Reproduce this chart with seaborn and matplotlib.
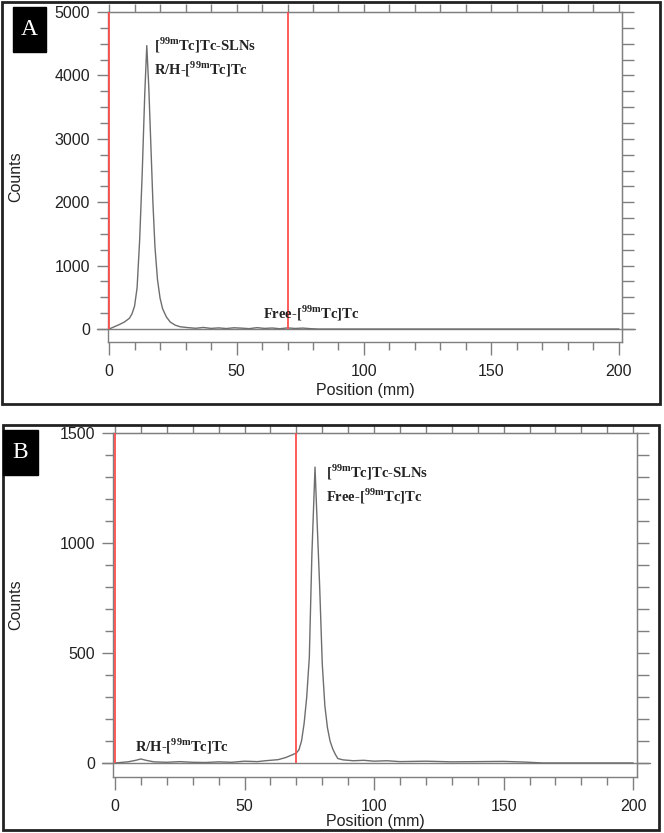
import numpy as np
import seaborn as sns
import matplotlib.pyplot as plt
from matplotlib.patches import Rectangle

# Radio-TLC scan A (position in mm, counts)
a_pos = [0, 2, 4, 6, 8, 9, 10, 11, 12, 13, 14, 14.8, 15.6, 16.4, 17.2, 18.0,
         19.0, 20.0, 21.0, 22.5, 24, 26, 28, 31, 34, 37, 40, 43, 46, 49, 52,
         55, 58, 61, 64, 67, 70, 73, 76, 79, 82, 90, 120, 160, 200]
a_counts = [0, 35, 70, 110, 170, 240, 360, 650, 1400, 2450, 3700, 4470, 3800,
            2900, 2000, 1300, 780, 490, 320, 190, 110, 60, 35, 22, 12, 25, 10,
            18, 8, 20, 14, 6, 22, 10, 16, 5, 18, 9, 15, 6, 0, 0, 0, 0, 0]

# Radio-TLC scan B
b_pos = [0, 5, 8, 10, 12, 15, 20, 25, 30, 35, 40, 45, 50, 55, 58, 60, 63, 66,
         68, 70, 71, 72, 73, 74, 75, 76, 77.2, 78, 79, 80, 81, 82, 83, 84, 85,
         86, 88, 92, 96, 100, 105, 110, 120, 130, 140, 150, 158, 165, 200]
b_counts = [0, 5, 12, 18, 12, 5, 3, 6, 3, 2, 5, 3, 8, 6, 10, 12, 15, 25, 35,
            45, 60, 100, 180, 300, 480, 950, 1345, 1100, 800, 450, 260, 160,
            100, 65, 40, 20, 14, 10, 12, 8, 10, 6, 8, 5, 6, 7, 4, 0, 0]

# origin and solvent front markers (mm)
markers = [0, 70]

sns.set_style("ticks")
plt.rcParams['font.family'] = ['Liberation Sans', 'DejaVu Sans']
plt.rcParams['mathtext.fontset'] = 'custom'
plt.rcParams['mathtext.rm'] = 'Liberation Serif'
plt.rcParams['mathtext.bf'] = 'Liberation Serif:bold'

grey = '#7f7f7f'
red = '#ff4d4d'
sup = r'$^{\mathbf{99m}}$'

fig = plt.figure(figsize=(6.64, 8.33), dpi=100)


def style_panel(ax, xlim, ylim, ymajor, yminor, ylab_x, xlab_y):
    ax.set_xlim(*xlim)
    ax.set_ylim(*ylim)
    ax.set_xticks([0, 50, 100, 150, 200])
    ax.set_xticks(np.arange(0, 201, 10), minor=True)
    ax.set_yticks(np.arange(0, ylim[1] + 1, ymajor))
    ax.set_yticks(np.arange(0, ylim[1] + 1, yminor), minor=True)
    for s in ax.spines.values():
        s.set_color(grey)
        s.set_linewidth(1)
    ax.tick_params(which='major', direction='out', length=9.5, width=1, color=grey,
                   labelsize=11.5, labelcolor='#222222', pad=6)
    ax.tick_params(which='minor', direction='out', length=5.5, width=1, color=grey)
    ax.tick_params(axis='y', which='major', length=8, pad=5)
    # top and right ticks without labels
    top = ax.secondary_xaxis('top')
    top.set_xticks(np.arange(0, 201, 10))
    top.tick_params(direction='out', length=6, width=1, color=grey, labeltop=False)
    top.spines['top'].set_color(grey)
    right = ax.secondary_yaxis('right')
    right.set_yticks(np.arange(0, ylim[1] + 1, yminor))
    right.tick_params(direction='out', length=8.5, width=1, color=grey, labelright=False)
    right.spines['right'].set_color(grey)
    # long zero line
    ax.axhline(0, xmin=-0.021, xmax=1.025, color=grey, lw=1, clip_on=False, zorder=1)
    ax.vlines(markers, 0, ylim[1], color=red, lw=1.3, zorder=3)
    ax.set_xlabel('Position (mm)', fontsize=11.5, color='#222222')
    ax.set_ylabel('Counts', fontsize=11.5, color='#222222')
    ax.yaxis.set_label_coords(ylab_x, 0.5)
    ax.xaxis.set_label_coords(0.5, xlab_y)


txt = dict(fontfamily='Liberation Serif', fontweight='bold', fontsize=10.5, color='#222222')

# ---- panel A ----
axA = fig.add_axes([0.1627, 0.5894, 0.7740, 0.3962])
sns.lineplot(x=a_pos, y=a_counts, ax=axA, color='#6e6e6e', lw=1, estimator=None, zorder=2)
style_panel(axA, (-0.4, 201.2), (-205, 5000), 1000, 250, -0.165, -0.123)
axA.text(17.6, 4620, '[' + sup + 'Tc]Tc-SLNs\nR/H-[' + sup + 'Tc]Tc', va='top', ha='left',
         linespacing=1.3, **txt)
axA.text(60.4, 250, 'Free-[' + sup + 'Tc]Tc', va='center', ha='left', **txt)

# ---- panel B ----
axB = fig.add_axes([0.1702, 0.0672, 0.7892, 0.4130])
sns.lineplot(x=b_pos, y=b_counts, ax=axB, color='#6e6e6e', lw=1, estimator=None, zorder=2)
style_panel(axB, (-0.77, 201.5), (-64, 1500), 500, 100, -0.172, -0.108)
axB.text(81.5, 1365, '[' + sup + 'Tc]Tc-SLNs\nFree-[' + sup + 'Tc]Tc', va='top', ha='left',
         linespacing=1.3, **txt)
axB.text(7.7, 75, 'R/H-[' + sup + 'Tc]Tc', va='center', ha='left', **txt)

# outer frames and panel letters
W, H = 664, 833
for (x0, y0, x1, y1) in [(2, 2, 660, 404), (3, 425, 659, 830)]:
    fig.add_artist(Rectangle((x0 / W, 1 - y1 / H), (x1 - x0) / W, (y1 - y0) / H,
                             transform=fig.transFigure, fill=False, ec='#222222', lw=2))
for letter, (x0, y0, x1, y1) in [('A', (13, 7, 46, 52)), ('B', (3, 430, 38, 475))]:
    fig.add_artist(Rectangle((x0 / W, 1 - y1 / H), (x1 - x0) / W, (y1 - y0) / H,
                             transform=fig.transFigure, color='black'))
    fig.text((x0 + x1) / 2 / W, 1 - (y0 + y1) / 2 / H, letter, color='white',
             fontfamily='Liberation Serif', fontsize=17, ha='center', va='center')

fig.savefig('out.png', dpi=100)
